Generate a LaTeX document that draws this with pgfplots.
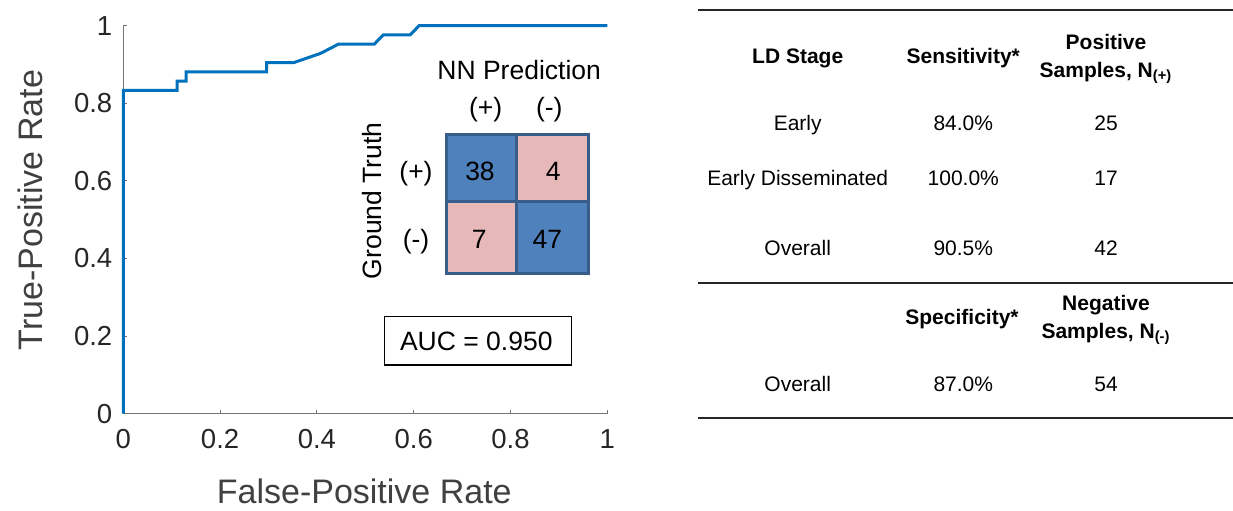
\documentclass[border=0pt]{standalone}
\usepackage{pgfplots}
\pgfplotsset{compat=1.18}
\usepackage{fontspec}
\setmainfont{Liberation Sans}
\definecolor{rocblue}{HTML}{0072BD}
\definecolor{cellblue}{HTML}{4F81BD}
\definecolor{cellpink}{HTML}{E6B9B8}
\definecolor{cellborder}{HTML}{385D8A}
\definecolor{labgray}{HTML}{404040}
\definecolor{tickgray}{HTML}{262626}
\begin{document}
\begin{tikzpicture}
\path[use as bounding box] (0,0) rectangle (616.5pt,-255pt);
\begin{axis}[
  at={(61.65pt,-206.85pt)}, anchor=south west,
  scale only axis, width=242pt, height=194pt,
  xmin=0, xmax=1, ymin=0, ymax=1,
  axis lines*=left,
  tick align=inside, major tick length=2pt,
  xtick={0,0.2,0.4,0.6,0.8,1}, ytick={0,0.2,0.4,0.6,0.8,1},
  axis line style={color=black!55, line width=0.5pt},
  tick style={color=black!55, line width=0.5pt},
  ticklabel style={font=\fontsize{13.75}{15}\selectfont, text=tickgray},
  /pgf/number format/assume math mode=true,
  xticklabel style={yshift=-4.5pt},
  yticklabel style={xshift=-2pt},
  clip=false,
]
\addplot[rocblue, line width=1.5pt, line join=miter] coordinates {
(0,0) (0,0.8333) (0.1111,0.8333) (0.1111,0.8571) (0.1296,0.8571) (0.1296,0.8810)
(0.2963,0.8810) (0.2963,0.9048) (0.3519,0.9048) (0.4074,0.9286) (0.4444,0.9524)
(0.5185,0.9524) (0.5370,0.9762) (0.5926,0.9762) (0.6111,1) (1,1)
};
\end{axis}
\begin{scope}[x=0.5pt, y=-0.5pt]
% axis labels
\node[anchor=base, text=labgray, font=\fontsize{17}{18}\selectfont] at (364.3,503) {False-Positive Rate};
\node[anchor=base, rotate=90, text=labgray, font=\fontsize{17}{18}\selectfont] at (42.7,210) {True-Positive Rate};
% confusion matrix
\fill[cellblue] (446,134) rectangle (516.7,201.7);
\fill[cellpink] (516.7,134) rectangle (588.3,201.7);
\fill[cellpink] (446,201.7) rectangle (516.7,273.3);
\fill[cellblue] (516.7,201.7) rectangle (588.3,273.3);
\draw[cellborder, line width=1.5pt] (446,134) rectangle (588.3,273.3);
\draw[cellborder, line width=1.5pt] (516.7,134) -- (516.7,273.3);
\draw[cellborder, line width=1.5pt] (446,201.7) -- (588.3,201.7);
\begin{scope}[every node/.style={anchor=base, font=\fontsize{13.25}{14}\selectfont, inner sep=0pt}]
\node at (519.2,79.3) {NN Prediction};
\node at (485.7,116.7) {(+)};
\node at (549.3,116.7) {(-)};
\node at (480,180.7) {38};
\node at (553.3,180.7) {4};
\node at (479.3,248.3) {7};
\node at (547.3,248.3) {47};
\node at (416,180.7) {(+)};
\node at (416,248.3) {(-)};
\node[rotate=90] at (381.7,200.7) {Ground Truth};
\node at (476.3,350) {AUC = 0.950};
\end{scope}
\draw[black, line width=0.75pt] (384.3,316.7) rectangle (571.7,365);
% table
\draw[tickgray, line width=1pt] (698,10) -- (1233,10);
\draw[tickgray, line width=1pt] (698,283) -- (1233,283);
\draw[tickgray, line width=1pt] (698,417.7) -- (1233,417.7);
\begin{scope}[every node/.style={anchor=base, font=\fontsize{10.5}{12}\selectfont, inner sep=0pt}]
\node[font=\fontsize{10.5}{12}\selectfont\bfseries] at (797.7,63.3) {LD Stage};
\node[font=\fontsize{10.5}{12}\selectfont\bfseries] at (963.3,63.3) {Sensitivity*};
\node[font=\fontsize{10.5}{12}\selectfont\bfseries] at (1106,49.3) {Positive};
\node[font=\fontsize{10.5}{12}\selectfont\bfseries] at (1106,77.3) {Samples, N\textsubscript{(+)}};
\node at (797.7,130) {Early};
\node at (963.3,130) {84.0\%};
\node at (1106,130) {25};
\node at (797.7,185) {Early Disseminated};
\node at (963.3,185) {100.0\%};
\node at (1106,185) {17};
\node at (797.7,255) {Overall};
\node at (963.3,255) {90.5\%};
\node at (1106,255) {42};
\node[font=\fontsize{10.5}{12}\selectfont\bfseries] at (962,324) {Specificity*};
\node[font=\fontsize{10.5}{12}\selectfont\bfseries] at (1106,310.7) {Negative};
\node[font=\fontsize{10.5}{12}\selectfont\bfseries] at (1106,338.3) {Samples, N\textsubscript{(-)}};
\node at (797.7,391.7) {Overall};
\node at (963.3,391.7) {87.0\%};
\node at (1106,391.7) {54};
\end{scope}
\end{scope}
\end{tikzpicture}
\end{document}
